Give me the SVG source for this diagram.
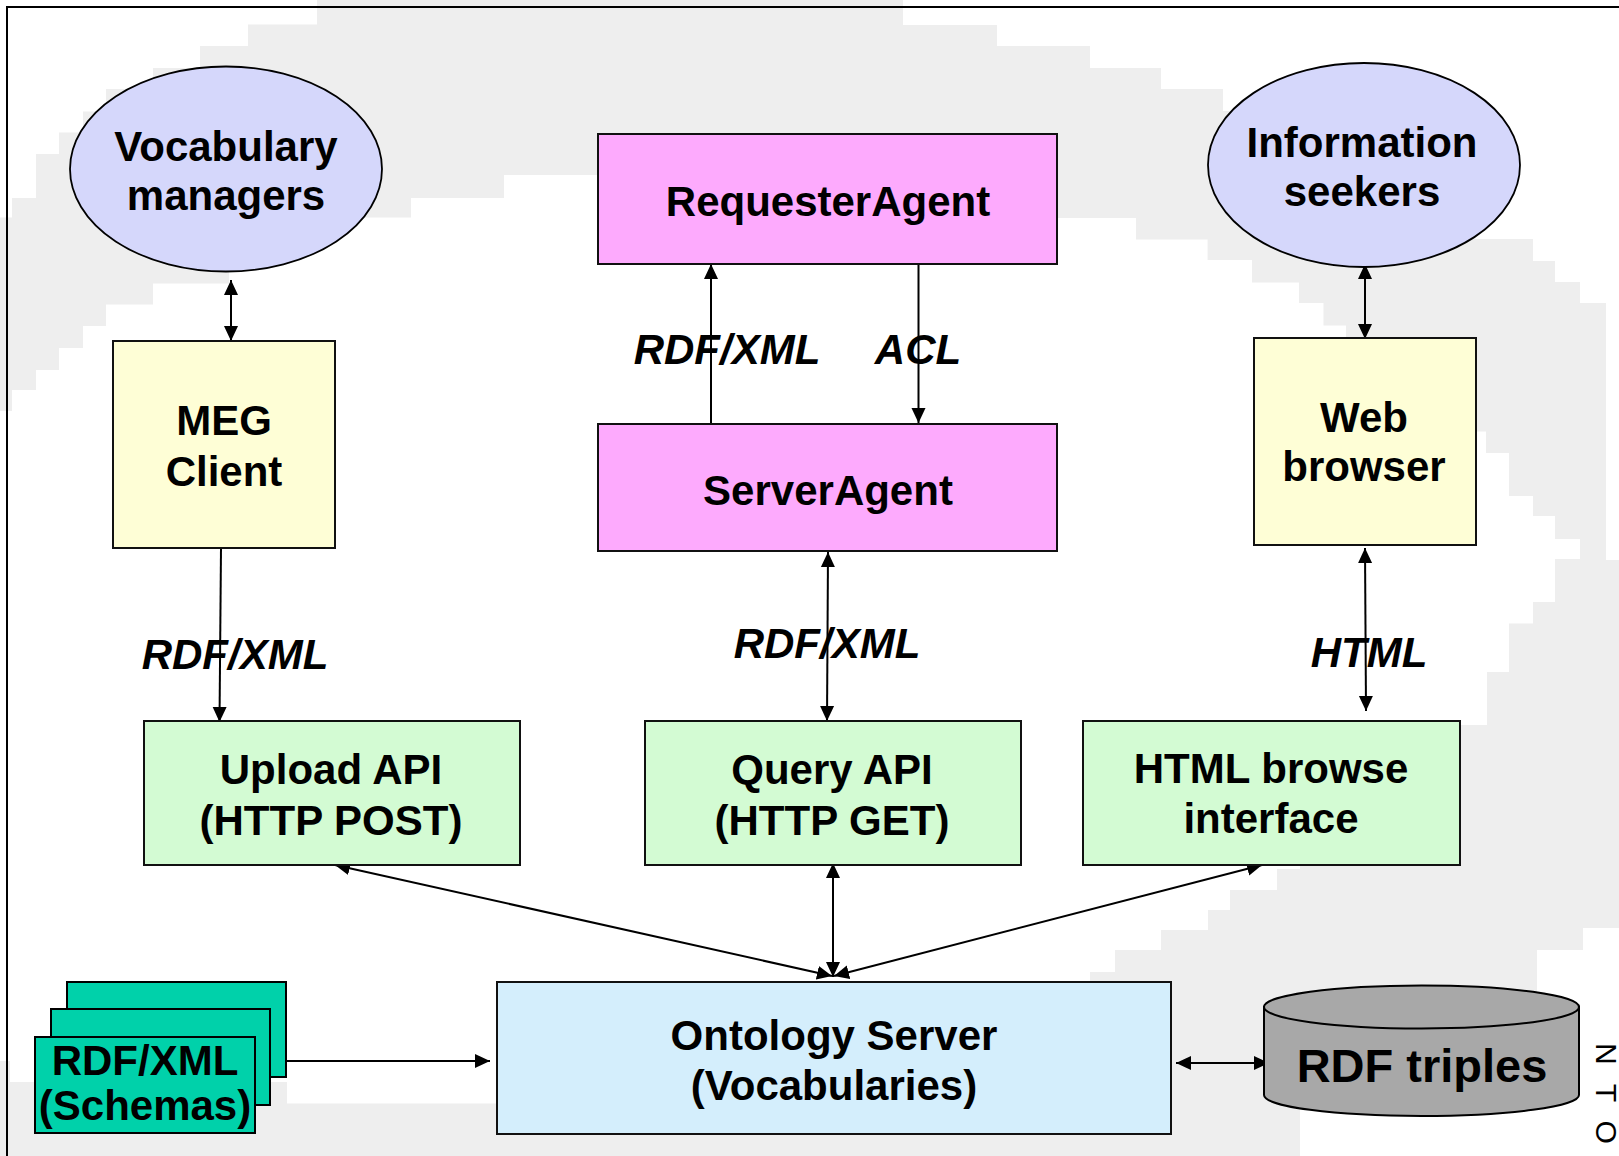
<svg xmlns="http://www.w3.org/2000/svg" width="1619" height="1156" viewBox="0 0 1619 1156">
<style>
.lbl{font-family:"Liberation Sans",Arial,sans-serif;font-weight:bold;font-size:42px;fill:#000;text-anchor:middle}
.it{font-style:italic}
.box{stroke:#111;stroke-width:2}
.ell{fill:#d5d7fb;stroke:#000;stroke-width:1.8}
.conn line{stroke:#000;stroke-width:2}
.one{marker-end:url(#ah)}
.two{marker-start:url(#ah);marker-end:url(#ah)}
</style>
<defs>
<marker id="ah" markerUnits="userSpaceOnUse" markerWidth="16" markerHeight="16" refX="15" refY="7" orient="auto-start-reverse" viewBox="0 0 16 14">
<path d="M0,0 L15,7 L0,14 Z" fill="#000"/>
</marker>
</defs>
<rect width="1619" height="1156" fill="#fff"/>
<polygon id="bg-band" fill="#eeeeee" points="0,217.5 12,217.5 12,198 36,198 36,154 59,154 59,132.5 83,132.5 83,111.5 106,111.5 106,89 153,89 153,68 200,68 200,46 248,46 248,24.5 317,24.5 317,0 903,0 903,25 997,25 997,46 1090,46 1090,68 1161,68 1161,89 1223,89 1223,111 1270,111 1270,133 1317,133 1317,154 1364,154 1364,175 1411,175 1411,196 1458,196 1458,218 1470,218 1470,239 1533,239 1533,261 1555,261 1555,282 1580,282 1580,303 1606,303 1606,560 1619,560 1619,928 1583,928 1583,950 1537,950 1537,1000 1500,1000 1500,1090 1300,1090 1300,1156 0,1156 0,1061 10,1061 10,1082 287,1082 287,1103.5 520,1103.5 520,1000 1090,1000 1090,972 1115,972 1115,950 1161,950 1161,930 1208,930 1208,910 1230,910 1230,890 1277,890 1277,869 1300,869 1300,725 1487,725 1487,672 1509,672 1509,623.5 1533,623.5 1533,602 1555,602 1555,559 1580,559 1580,539 1555,539 1555,516 1533,516 1533,496 1509,496 1509,453 1486,453 1486,431.5 1440,431.5 1440,340 1346,340 1346,325.5 1323.5,325.5 1323.5,303 1299,303 1299,282.5 1252,282.5 1252,260 1207.6,260 1207.6,239.4 1136,239.4 1136,218 620,218 620,175 504,175 504,198 411,198 411,217.5 300,217.5 300,250 229,250 229,283.5 153,283.5 153,304.5 106,304.5 106,326 83,326 83,348 59,348 59,370 36,370 36,390 12,390 12,411 0,411"/>
<path id="frame" d="M7,1156 V7 H1619" fill="none" stroke="#000" stroke-width="2"/>

<g id="connectors" class="conn">
<line class="two" x1="231" y1="280" x2="231" y2="341"/>
<line class="two" x1="1365" y1="264" x2="1365" y2="339"/>
<line class="one" x1="711" y1="423" x2="711" y2="264"/>
<line class="one" x1="918.5" y1="264" x2="918.5" y2="423"/>
<line class="two" x1="828" y1="552" x2="827" y2="721"/>
<line class="one" x1="221" y1="548" x2="219.5" y2="722"/>
<line class="two" x1="1365" y1="548" x2="1366" y2="711"/>
<line class="two" x1="335" y1="865" x2="832" y2="976"/>
<line class="two" x1="833" y1="863" x2="833" y2="977"/>
<line class="two" x1="1262" y1="865" x2="834" y2="976"/>
<line class="one" x1="286" y1="1061" x2="490" y2="1061"/>
<line class="two" x1="1176" y1="1063" x2="1269" y2="1063"/>
</g>

<g id="edge-labels">
<text class="lbl it" x="727" y="364">RDF/XML</text>
<text class="lbl it" x="918" y="364">ACL</text>
<text class="lbl it" x="235" y="669">RDF/XML</text>
<text class="lbl it" x="827" y="658">RDF/XML</text>
<text class="lbl it" x="1369" y="667">HTML</text>
</g>

<g id="vocabulary-managers">
<ellipse class="ell" cx="226" cy="169" rx="156" ry="102.5"/>
<text class="lbl" x="226" y="161">Vocabulary</text>
<text class="lbl" x="226" y="210">managers</text>
</g>

<g id="information-seekers">
<ellipse class="ell" cx="1364" cy="165" rx="156" ry="102"/>
<text class="lbl" x="1362" y="157">Information</text>
<text class="lbl" x="1362" y="206">seekers</text>
</g>

<g id="requester-agent">
<rect class="box" x="598" y="134" width="459" height="130" fill="#fdaafd"/>
<text class="lbl" x="828" y="216">RequesterAgent</text>
</g>

<g id="server-agent">
<rect class="box" x="598" y="424" width="459" height="127" fill="#fdaafd"/>
<text class="lbl" x="828" y="505">ServerAgent</text>
</g>

<g id="meg-client">
<rect class="box" x="113" y="341" width="222" height="207" fill="#fefed6"/>
<text class="lbl" x="224" y="435">MEG</text>
<text class="lbl" x="224" y="486">Client</text>
</g>

<g id="web-browser">
<rect class="box" x="1254" y="338" width="222" height="207" fill="#fefed6"/>
<text class="lbl" x="1364" y="432">Web</text>
<text class="lbl" x="1364" y="481">browser</text>
</g>

<g id="upload-api">
<rect class="box" x="144" y="721" width="376" height="144" fill="#d3fbd3"/>
<text class="lbl" x="331" y="784">Upload API</text>
<text class="lbl" x="331" y="835">(HTTP POST)</text>
</g>

<g id="query-api">
<rect class="box" x="645" y="721" width="376" height="144" fill="#d3fbd3"/>
<text class="lbl" x="832" y="784">Query API</text>
<text class="lbl" x="832" y="835">(HTTP GET)</text>
</g>

<g id="html-browse">
<rect class="box" x="1083" y="721" width="377" height="144" fill="#d3fbd3"/>
<text class="lbl" x="1271" y="783">HTML browse</text>
<text class="lbl" x="1271" y="833">interface</text>
</g>

<g id="ontology-server">
<rect class="box" x="497" y="982" width="674" height="152" fill="#d4eefc"/>
<text class="lbl" x="834" y="1050">Ontology Server</text>
<text class="lbl" x="834" y="1100">(Vocabularies)</text>
</g>

<g id="rdf-triples">
<path d="M1264,1007 V1095 A157.5,21 0 0 0 1579,1095 V1007 Z" fill="#a8a8a8" stroke="#000" stroke-width="2"/>
<ellipse cx="1421.5" cy="1007" rx="157.5" ry="21.5" fill="#a8a8a8" stroke="#000" stroke-width="2"/>
<text class="lbl" x="1422" y="1082" style="font-size:47px">RDF triples</text>
</g>

<g id="rdf-xml-schemas">
<rect x="67" y="982" width="219" height="95" fill="#00d1aa" stroke="#000" stroke-width="2"/>
<rect x="51" y="1009" width="219" height="96" fill="#00d1aa" stroke="#000" stroke-width="2"/>
<rect x="35" y="1037" width="220" height="96" fill="#00d1aa" stroke="#000" stroke-width="2"/>
<text class="lbl" x="145" y="1075">RDF/XML</text>
<text class="lbl" x="145" y="1120">(Schemas)</text>
</g>

<text id="side-text" transform="translate(1596,1043) rotate(90)" style="font-family:'Liberation Sans',Arial,sans-serif;font-size:30px;letter-spacing:19px" fill="#000">NTO</text>
</svg>
